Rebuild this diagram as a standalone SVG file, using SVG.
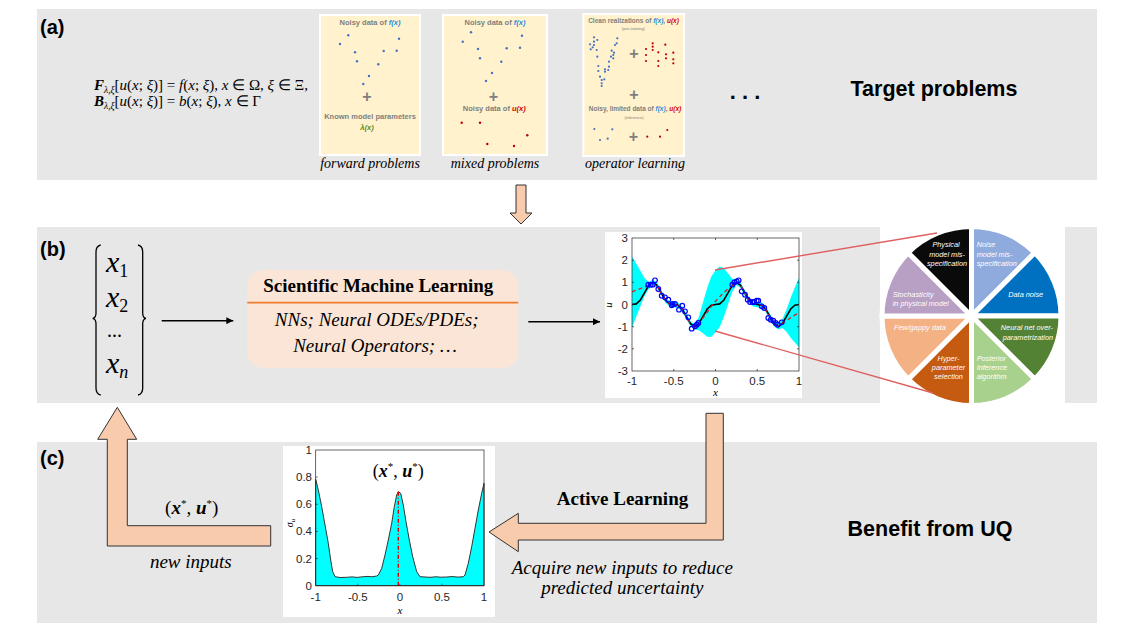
<svg xmlns="http://www.w3.org/2000/svg" width="1136" height="639" viewBox="0 0 1136 639">
<defs>
<marker id="ah" viewBox="0 0 10 10" refX="10" refY="5" markerWidth="7" markerHeight="7" markerUnits="userSpaceOnUse" orient="auto"><path d="M0,0 L10,5 L0,10 Z" fill="#000"/></marker>
</defs>
<style>
.panel{fill:#E7E7E7}
.lbl{font-family:"Liberation Sans",Arial,sans-serif;font-weight:bold;font-size:20px;fill:#000}
.big{font-family:"Liberation Sans",Arial,sans-serif;font-weight:bold;font-size:21.5px;fill:#000}
.ser{font-family:"Liberation Serif","Times New Roman",serif;fill:#000}
.it{font-style:italic}
.bd{font-weight:bold}
.card{fill:#FFF2CC;stroke:#fff;stroke-width:2}
.ct{font-family:"Liberation Sans",Arial,sans-serif;font-weight:bold;font-size:7.5px;fill:#7F7F7F;text-anchor:middle}
.ctt{font-family:"Liberation Sans",Arial,sans-serif;font-weight:bold;font-size:6.5px;fill:#7F7F7F;text-anchor:middle}
.cts{font-family:"Liberation Sans",Arial,sans-serif;font-size:4px;fill:#7F7F7F;text-anchor:middle}
.fb{fill:#1E90E0;font-style:italic}
.ur{fill:#D00000;font-style:italic}
.plus{font-family:"Liberation Sans",Arial,sans-serif;font-weight:bold;font-size:16px;fill:#7F7F7F;text-anchor:middle}
.db{fill:#4472C4}
.dr{fill:#C00000}
.cap{font-family:"Liberation Serif","Times New Roman",serif;font-style:italic;font-size:14px;fill:#000;text-anchor:middle}
.tick{font-family:"Liberation Sans",Arial,sans-serif;font-size:11.5px;fill:#262626}
.pt{font-family:"Liberation Sans",Arial,sans-serif;font-style:italic;font-size:7.3px;fill:#fff}
.sec{stroke:#fff;stroke-width:5;stroke-linejoin:round}
.blk{fill:#F8CBAD;stroke:#333;stroke-width:1}
</style>

<!-- panels -->
<rect class="panel" x="37" y="9" width="1060" height="171"/>
<rect class="panel" x="37" y="227" width="1060" height="176"/>
<rect class="panel" x="37" y="442" width="1060" height="181"/>

<text class="lbl" x="40" y="34">(a)</text>
<text class="lbl" x="40" y="256">(b)</text>
<text class="lbl" x="40" y="465">(c)</text>

<!-- (a) equations -->
<g id="equations" class="ser" font-size="15">
<text x="94" y="90"><tspan class="it bd">F</tspan><tspan font-size="9.5" class="it" dy="3">λ,ξ</tspan><tspan dy="-3">[</tspan><tspan class="it">u</tspan>(<tspan class="it">x</tspan>; <tspan class="it">ξ</tspan>)] = <tspan class="it">f</tspan>(<tspan class="it">x</tspan>; <tspan class="it">ξ</tspan>), <tspan class="it">x</tspan> ∈ Ω, <tspan class="it">ξ</tspan> ∈ Ξ,</text>
<text x="94" y="106"><tspan class="it bd">B</tspan><tspan font-size="9.5" class="it" dy="3">λ,ξ</tspan><tspan dy="-3">[</tspan><tspan class="it">u</tspan>(<tspan class="it">x</tspan>; <tspan class="it">ξ</tspan>)] = <tspan class="it">b</tspan>(<tspan class="it">x</tspan>; <tspan class="it">ξ</tspan>), <tspan class="it">x</tspan> ∈ Γ</text>
</g>

<!-- forward problems card -->
<g id="card-forward">
<rect class="card" x="320" y="15" width="100" height="140"/>
<text class="ct" x="370" y="25">Noisy data of <tspan class="fb">f(x)</tspan></text>
<g class="db">
<circle cx="340" cy="44" r="1.2"/><circle cx="348.3" cy="35.3" r="1.2"/><circle cx="355" cy="52.3" r="1.2"/><circle cx="357" cy="61.3" r="1.2"/><circle cx="383.7" cy="51" r="1.2"/><circle cx="399" cy="38.7" r="1.2"/><circle cx="396.7" cy="50.7" r="1.2"/><circle cx="378.3" cy="64.3" r="1.2"/><circle cx="369" cy="76" r="1.2"/><circle cx="363.3" cy="84" r="1.2"/>
</g>
<text class="plus" x="367" y="101.5">+</text>
<text class="ct" x="370" y="119">Known model parameters</text>
<text class="ct" x="367" y="130" style="fill:#4E8F2A;font-style:italic">λ(x)</text>
<text class="cap" x="370" y="168">forward problems</text>
</g>

<!-- mixed problems card -->
<g id="card-mixed">
<rect class="card" x="443" y="15" width="104" height="140"/>
<text class="ct" x="495" y="25">Noisy data of <tspan class="fb">f(x)</tspan></text>
<g class="db">
<circle cx="462.7" cy="41.7" r="1.2"/><circle cx="471" cy="32.3" r="1.2"/><circle cx="478" cy="49" r="1.2"/><circle cx="480" cy="58.3" r="1.2"/><circle cx="506.7" cy="48.3" r="1.2"/><circle cx="522" cy="35.7" r="1.2"/><circle cx="520" cy="47.7" r="1.2"/><circle cx="501.3" cy="61.7" r="1.2"/><circle cx="492" cy="73" r="1.2"/><circle cx="486" cy="81" r="1.2"/>
</g>
<text class="plus" x="493.3" y="101.5">+</text>
<text class="ct" x="494.3" y="111">Noisy data of <tspan class="ur">u(x)</tspan></text>
<g class="dr">
<circle cx="461.7" cy="122.7" r="1.2"/><circle cx="480" cy="122.7" r="1.2"/><circle cx="527.3" cy="135.3" r="1.2"/><circle cx="487.3" cy="144" r="1.2"/><circle cx="514" cy="146" r="1.2"/>
</g>
<text class="cap" x="495" y="168">mixed problems</text>
</g>

<!-- operator learning card -->
<g id="card-operator">
<rect class="card" x="583.3" y="14" width="100.7" height="142"/>
<text class="ctt" x="633.5" y="23">Clean realizations of <tspan class="fb">f(x)</tspan>, <tspan class="ur">u(x)</tspan></text>
<text class="cts" x="633.3" y="30">(pre-training)</text>
<g class="db">
<circle cx="590" cy="44.3" r="1.1"/><circle cx="590.7" cy="49.3" r="1.1"/><circle cx="594" cy="37.3" r="1.1"/><circle cx="594" cy="41.7" r="1.1"/><circle cx="594" cy="45" r="1.1"/><circle cx="597.3" cy="40" r="1.1"/><circle cx="596.7" cy="50" r="1.1"/><circle cx="597.3" cy="56.7" r="1.1"/><circle cx="598.3" cy="66" r="1.1"/><circle cx="598.3" cy="71" r="1.1"/><circle cx="600" cy="76.7" r="1.1"/><circle cx="601.7" cy="80" r="1.1"/><circle cx="601.7" cy="83.3" r="1.1"/><circle cx="601.7" cy="86" r="1.1"/><circle cx="604.3" cy="79.3" r="1.1"/><circle cx="605" cy="71.7" r="1.1"/><circle cx="605" cy="69.3" r="1.1"/><circle cx="608.3" cy="70" r="1.1"/><circle cx="609" cy="66.7" r="1.1"/><circle cx="609" cy="61.7" r="1.1"/><circle cx="611" cy="56.7" r="1.1"/><circle cx="611.7" cy="50.7" r="1.1"/><circle cx="613.3" cy="55" r="1.1"/><circle cx="614" cy="52.7" r="1.1"/><circle cx="615" cy="45" r="1.1"/><circle cx="616.7" cy="43.3" r="1.1"/><circle cx="617.3" cy="38.3" r="1.1"/><circle cx="613.3" cy="58.3" r="1.1"/><circle cx="592.7" cy="47.3" r="1.1"/>
<circle cx="594.3" cy="129" r="1.1"/><circle cx="600" cy="140" r="1.1"/><circle cx="607.7" cy="138.7" r="1.1"/><circle cx="612.3" cy="129.3" r="1.1"/>
</g>
<g class="dr">
<circle cx="646" cy="49" r="1.1"/><circle cx="646" cy="55" r="1.1"/><circle cx="646" cy="61" r="1.1"/><circle cx="652.7" cy="43.3" r="1.1"/><circle cx="652.7" cy="46.7" r="1.1"/><circle cx="652.7" cy="50" r="1.1"/><circle cx="658.3" cy="52.3" r="1.1"/><circle cx="658.3" cy="61" r="1.1"/><circle cx="658.3" cy="66" r="1.1"/><circle cx="665.3" cy="44.7" r="1.1"/><circle cx="666" cy="54.3" r="1.1"/><circle cx="666" cy="58.3" r="1.1"/><circle cx="673.3" cy="52.7" r="1.1"/><circle cx="673.3" cy="59.3" r="1.1"/><circle cx="673.3" cy="63.3" r="1.1"/>
<circle cx="647.3" cy="136.7" r="1.1"/><circle cx="660" cy="136.7" r="1.1"/><circle cx="667.3" cy="130" r="1.1"/>
</g>
<text class="plus" x="634" y="59">+</text>
<text class="plus" x="634" y="100">+</text>
<text class="ctt" x="635" y="111">Noisy, limited data of <tspan class="fb">f(x)</tspan>, <tspan class="ur">u(x)</tspan></text>
<text class="cts" x="634" y="118.5">(inference)</text>
<text class="plus" x="633.3" y="141.5">+</text>
<text class="cap" x="635" y="168">operator learning</text>
</g>

<text font-family="'Liberation Sans',Arial,sans-serif" font-weight="bold" font-size="22" x="745" y="99" text-anchor="middle">. . .</text>
<text class="big" x="934" y="96" text-anchor="middle">Target problems</text>

<!-- (b) inputs -->
<g id="inputs">
<path d="M100.7,245 Q96,246 96,252 L96,313 Q96,318 92.7,318.3 Q96,319 96,324 L96,388 Q96,394 100.7,395" fill="none" stroke="#000" stroke-width="1.3"/>
<path d="M138,245 Q142.7,246 142.7,252 L142.7,313 Q142.7,318 146,318.3 Q142.7,319 142.7,324 L142.7,388 Q142.7,394 138,395" fill="none" stroke="#000" stroke-width="1.3"/>
<text class="ser it" font-size="30" x="106" y="272">x<tspan font-size="18" font-style="normal" dy="5">1</tspan></text>
<text class="ser it" font-size="30" x="106" y="307">x<tspan font-size="18" font-style="normal" dy="5">2</tspan></text>
<text class="ser" font-size="20" x="107" y="337">...</text>
<text class="ser it" font-size="30" x="106" y="373">x<tspan font-size="18" dy="5">n</tspan></text>
</g>

<!-- SciML box -->
<g id="sciml">
<rect x="247.3" y="270" width="271" height="98.3" rx="16" fill="#FBE5D6"/>
<line x1="247.3" y1="302.7" x2="518.3" y2="302.7" stroke="#ED7D31" stroke-width="1.8"/>
<text class="ser bd" font-size="19" x="378.3" y="292" text-anchor="middle">Scientific Machine Learning</text>
<text class="ser it" font-size="19" x="376.7" y="326" text-anchor="middle">NNs; Neural ODEs/PDEs;</text>
<text class="ser it" font-size="19" x="375" y="352" text-anchor="middle">Neural Operators; …</text>
</g>

<!-- (b) plot -->
<g id="plot-b">
<rect x="605" y="232" width="197" height="166" fill="#fff"/>
<polygon fill="#00FFFF" points="632,256.4 636.2,263.6 640.4,270.8 644.5,278.1 648.7,281.9 652.9,279.6 657.1,282.7 661.2,290.1 665.4,297.3 669.6,301.2 673.8,301.8 677.9,302.5 682.1,306.3 686.3,313.6 690.5,320.9 694.6,324 698.8,316.9 703,302.3 707.2,287.9 711.3,276.5 715.5,270.2 719.7,266.5 723.9,267.9 728,273.5 732.2,278.7 736.4,279.6 740.6,282.7 744.7,290.1 748.9,297.3 753.1,301.2 757.3,301.8 761.4,302.5 765.6,306.3 769.8,313.6 774,320.9 778.1,324 782.3,319.2 786.5,309.6 790.7,297.8 794.8,287.6 799,278.1 799,347.3 794.8,342.6 790.7,337.8 786.5,331.8 782.3,328 778.1,329.4 774,326.3 769.8,319 765.6,311.7 761.4,307.9 757.3,307.2 753.1,306.6 748.9,302.7 744.7,295.5 740.6,288.1 736.4,285 732.2,292.1 728,304.5 723.9,316.7 719.7,326.9 715.5,332.2 711.3,336.9 707.2,336.7 703,333.3 698.8,330.3 694.6,329.4 690.5,326.3 686.3,319 682.1,311.7 677.9,307.9 673.8,307.2 669.6,306.6 665.4,302.7 661.2,295.5 657.1,288.1 652.9,285 648.7,288.9 644.5,295.9 640.4,306.2 636.2,316.8 632,327.4"/>
<polyline fill="none" stroke="#000" stroke-width="1.6" points="632,304.5 636.2,303.9 640.4,300 644.5,292.8 648.7,285.4 652.9,282.3 657.1,285.4 661.2,292.8 665.4,300 669.6,303.9 673.8,304.5 677.9,305.2 682.1,309 686.3,316.3 690.5,323.6 694.6,326.7 698.8,323.6 703,316.3 707.2,309 711.3,305.2 715.5,304.5 719.7,303.9 723.9,300 728,292.8 732.2,285.4 736.4,282.3 740.6,285.4 744.7,292.8 748.9,300 753.1,303.9 757.3,304.5 761.4,305.2 765.6,309 769.8,316.3 774,323.6 778.1,326.7 782.3,323.6 786.5,316.3 790.7,309 794.8,305.2 799,304.5"/>
<polyline fill="none" stroke="#E02020" stroke-width="1.3" stroke-dasharray="4 3" points="632,291.9 636.2,290.2 640.4,288.5 644.5,287 648.7,285.4 652.9,282.3 657.1,285.4 661.2,292.8 665.4,300 669.6,303.9 673.8,304.5 677.9,305.2 682.1,309 686.3,316.3 690.5,323.6 694.6,326.7 698.8,323.6 703,317.8 707.2,312.3 711.3,306.7 715.5,301.2 719.7,296.7 723.9,292.3 728,289 732.2,285.4 736.4,282.3 740.6,285.4 744.7,292.8 748.9,300 753.1,303.9 757.3,304.5 761.4,305.2 765.6,309 769.8,316.3 774,323.6 778.1,326.7 782.3,323.6 786.5,320.7 790.7,317.8 794.8,315.1 799,312.7"/>
<g fill="none" stroke="#0000FF" stroke-width="1.2">
<circle cx="648.3" cy="284.7" r="2.3"/><circle cx="650.7" cy="284.7" r="2.3"/><circle cx="652.7" cy="284.7" r="2.3"/><circle cx="655" cy="280.3" r="2.3"/><circle cx="658.3" cy="289" r="2.3"/><circle cx="661.7" cy="295.7" r="2.3"/><circle cx="665" cy="297.3" r="2.3"/><circle cx="668.3" cy="299.7" r="2.3"/><circle cx="671.7" cy="305.3" r="2.3"/><circle cx="672.7" cy="304" r="2.3"/><circle cx="675" cy="304" r="2.3"/><circle cx="679" cy="309.7" r="2.3"/><circle cx="682.3" cy="305.7" r="2.3"/><circle cx="685" cy="311.3" r="2.3"/><circle cx="688.3" cy="317.3" r="2.3"/><circle cx="691.7" cy="328.7" r="2.3"/><circle cx="695" cy="326.3" r="2.3"/><circle cx="696.7" cy="324.7" r="2.3"/><circle cx="698.3" cy="323" r="2.3"/>
<circle cx="732.3" cy="284.7" r="2.3"/><circle cx="734.3" cy="282.3" r="2.3"/><circle cx="736.7" cy="281.3" r="2.3"/><circle cx="738.7" cy="280.3" r="2.3"/><circle cx="741.7" cy="291.3" r="2.3"/><circle cx="745" cy="294.7" r="2.3"/><circle cx="747.7" cy="299.7" r="2.3"/><circle cx="750" cy="302" r="2.3"/><circle cx="752.7" cy="302" r="2.3"/><circle cx="754.3" cy="302" r="2.3"/><circle cx="756.7" cy="300.7" r="2.3"/><circle cx="758.3" cy="300.7" r="2.3"/><circle cx="761.7" cy="306.3" r="2.3"/><circle cx="764.3" cy="308" r="2.3"/><circle cx="768.3" cy="318" r="2.3"/><circle cx="770.7" cy="319.7" r="2.3"/><circle cx="773.3" cy="320.7" r="2.3"/><circle cx="775.7" cy="323" r="2.3"/><circle cx="777.7" cy="324.7" r="2.3"/><circle cx="781.7" cy="322.3" r="2.3"/>
</g>
<rect x="632" y="238" width="167" height="133" fill="none" stroke="#262626" stroke-width="0.7"/>
<g stroke="#262626" stroke-width="0.7">
<path d="M673.75,371v-2M715.5,371v-2M757.25,371v-2M673.75,238v2M715.5,238v2M757.25,238v2M632,260.2h2M632,282.3h2M632,304.5h2M632,326.7h2M632,348.8h2M799,260.2h-2M799,282.3h-2M799,304.5h-2M799,326.7h-2M799,348.8h-2"/>
</g>
<g class="tick" text-anchor="end">
<text x="628" y="242">3</text><text x="628" y="264">2</text><text x="628" y="286">1</text><text x="628" y="308.5">0</text><text x="628" y="330.7">-1</text><text x="628" y="352.8">-2</text><text x="628" y="375">-3</text>
</g>
<g class="tick" text-anchor="middle">
<text x="632" y="385">-1</text><text x="673.75" y="385">-0.5</text><text x="715.5" y="385">0</text><text x="757.25" y="385">0.5</text><text x="799" y="385">1</text>
</g>
<text class="ser it" font-size="11" x="715.5" y="396" text-anchor="middle" fill="#262626">x</text>
<text class="ser it" font-size="11" x="0" y="0" text-anchor="middle" transform="translate(612,305) rotate(-90)" fill="#262626">u</text>
</g>

<!-- pie chart -->
<g id="uq-sources">
<rect x="880" y="227" width="185" height="176" fill="#fff"/>
<path class="sec" fill="#8FAADC" d="M971.5,316 L971.5,226.5 A89.5,89.5 0 0 1 1034.79,252.71 Z"/>
<path class="sec" fill="#0070C0" d="M971.5,316 L1034.79,252.71 A89.5,89.5 0 0 1 1061,316 Z"/>
<path class="sec" fill="#548235" d="M971.5,316 L1061,316 A89.5,89.5 0 0 1 1034.79,379.29 Z"/>
<path class="sec" fill="#A9D18E" d="M971.5,316 L1034.79,379.29 A89.5,89.5 0 0 1 971.5,405.5 Z"/>
<path class="sec" fill="#C55A11" d="M971.5,316 L971.5,405.5 A89.5,89.5 0 0 1 908.21,379.29 Z"/>
<path class="sec" fill="#F4B183" d="M971.5,316 L908.21,379.29 A89.5,89.5 0 0 1 882,316 Z"/>
<path class="sec" fill="#B7A0C4" d="M971.5,316 L882,316 A89.5,89.5 0 0 1 908.21,252.71 Z"/>
<path class="sec" fill="#0A0A0A" d="M971.5,316 L908.21,252.71 A89.5,89.5 0 0 1 971.5,226.5 Z"/>
<g class="pt">
<text x="946" y="247.3" text-anchor="middle">Physical</text>
<text x="947" y="256.7" text-anchor="middle">model mis-</text>
<text x="947" y="266" text-anchor="middle">specification</text>
<text x="976.7" y="247.3">Noise</text>
<text x="976.7" y="256.7">model mis-</text>
<text x="976.7" y="266">specification</text>
<text x="1008.3" y="297.3">Data noise</text>
<text x="892.7" y="296.5">Stochasticity</text>
<text x="892.7" y="305.5">in physical model</text>
<text x="894" y="330">Few/gappy data</text>
<text x="1053" y="330" text-anchor="end">Neural net over-</text>
<text x="1053" y="339.5" text-anchor="end">parametrization</text>
<text x="948.5" y="360.5" text-anchor="middle">Hyper-</text>
<text x="948.5" y="369.5" text-anchor="middle">parameter</text>
<text x="948.5" y="379" text-anchor="middle">selection</text>
<text x="976.7" y="360.5">Posterior</text>
<text x="976.7" y="369.5">Inference</text>
<text x="976.7" y="379">algorithm</text>
</g>
</g>

<!-- (c) plot -->
<g id="plot-c">
<rect x="283" y="446" width="212" height="171" fill="#fff"/>
<path fill="#00FFFF" stroke="#333" stroke-width="1" d="M315.7,479.3 L318.3,490 321.7,506.7 325,525 328.3,543.3 330.7,560 332.7,571.7 335,576.7 340,577.5 346.7,577.3 352,576.9 357,577.4 363.3,576.7 368,576.4 372,576.8 376.7,576 378.3,575 381.7,568.3 385,555 388.3,540 391.7,523.3 394.3,506.7 396.7,495 398.3,491.7 400.7,493.3 403.3,505 406,521.7 409.3,540 412.7,556.7 416.7,571.7 420,576.7 425,577 430,577.3 436,576.8 441,577.2 446.7,577 452,576.6 458,577.1 463.3,576.7 465,575 468.3,563.3 471.7,546.7 475,528.3 478.3,510 481.7,493.3 484,483.3 L484,585.7 L315.7,585.7 Z"/>
<line x1="398.3" y1="585.7" x2="398.3" y2="491.7" stroke="#E00000" stroke-width="1.4" stroke-dasharray="4 2 1 2"/>
<rect x="315.7" y="450" width="168.3" height="135.7" fill="none" stroke="#262626" stroke-width="0.7"/>
<g stroke="#262626" stroke-width="0.7">
<path d="M357.8,585.7v-2M399.85,585.7v-2M441.9,585.7v-2M315.7,477.1h2M315.7,504.3h2M315.7,531.4h2M315.7,558.6h2"/>
</g>
<g class="tick" text-anchor="end">
<text x="312" y="454">1</text><text x="312" y="481">0.8</text><text x="312" y="508.3">0.6</text><text x="312" y="535.4">0.4</text><text x="312" y="562.6">0.2</text><text x="312" y="589.7">0</text>
</g>
<g class="tick" text-anchor="middle">
<text x="315.7" y="600.5">-1</text><text x="357.8" y="600.5">-0.5</text><text x="399.85" y="600.5">0</text><text x="441.9" y="600.5">0.5</text><text x="484" y="600.5">1</text>
</g>
<text class="ser it" font-size="11" x="399.85" y="614" text-anchor="middle" fill="#262626">x</text>
<text class="ser it" font-size="10" x="0" y="0" text-anchor="middle" transform="translate(293,523) rotate(-90)" fill="#262626">σ<tspan font-size="7" dy="2">u</tspan></text>
<text class="ser" font-size="18" x="398.3" y="477" text-anchor="middle">(<tspan class="it bd">x</tspan><tspan font-size="11" dy="-7">*</tspan><tspan dy="7">, </tspan><tspan class="it bd">u</tspan><tspan font-size="11" dy="-7">*</tspan><tspan dy="7">)</tspan></text>
</g>

<!-- connectors -->
<g id="connectors">
<line x1="161.7" y1="320.7" x2="233.3" y2="320.7" stroke="#000" stroke-width="1.5" marker-end="url(#ah)"/>
<line x1="528.3" y1="321.7" x2="600" y2="321.7" stroke="#000" stroke-width="1.5" marker-end="url(#ah)"/>
<line x1="715" y1="270" x2="937" y2="233" stroke="#E06060" stroke-width="1.4"/>
<line x1="715" y1="331" x2="933" y2="393" stroke="#E06060" stroke-width="1.4"/>
<path class="blk" d="M516,185 L526,185 L526,213 L532,213 L521,224 L510,213 L516,213 Z"/>
<path class="blk" d="M117.3,407.3 L136.7,439.3 L127.3,439.3 L127.3,525.7 L270.7,525.7 L270.7,546 L107.3,546 L107.3,439.3 L97.7,439.3 Z"/>
<path class="blk" d="M706,413.3 L723.3,413.3 L723.3,540 L518.3,540 L518.3,551.7 L489,532 L518.3,513.3 L518.3,523.3 L706,523.3 Z"/>
</g>

<!-- (c) labels -->
<text class="ser" font-size="19" x="191.7" y="513.5" text-anchor="middle">(<tspan class="it bd">x</tspan><tspan font-size="11" dy="-7">*</tspan><tspan dy="7">, </tspan><tspan class="it bd">u</tspan><tspan font-size="11" dy="-7">*</tspan><tspan dy="7">)</tspan></text>
<text class="ser it" font-size="19" x="190.8" y="568" text-anchor="middle">new inputs</text>
<text class="ser bd" font-size="19" x="622.5" y="505" text-anchor="middle">Active Learning</text>
<text class="ser it" font-size="19" x="622.3" y="574" text-anchor="middle">Acquire new inputs to reduce</text>
<text class="ser it" font-size="19" x="622.3" y="593.5" text-anchor="middle">predicted uncertainty</text>
<text class="big" x="930" y="536" text-anchor="middle">Benefit from UQ</text>
</svg>
